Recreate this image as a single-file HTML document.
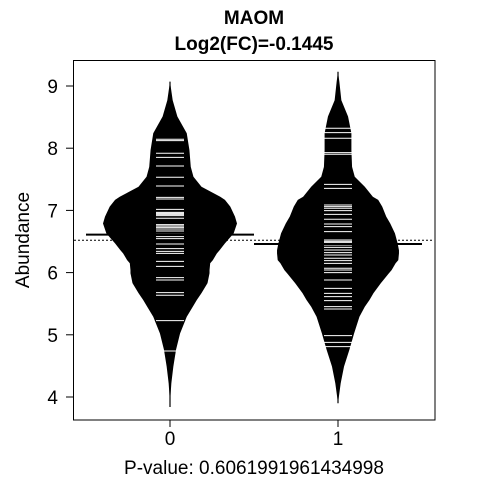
<!DOCTYPE html>
<html><head><meta charset="utf-8"><style>body{margin:0;background:#fff}svg text{font-family:"Liberation Sans",Arial,sans-serif}</style></head>
<body>
<svg id="chart" width="480" height="480" viewBox="0 0 480 480" xmlns="http://www.w3.org/2000/svg">
<text x="254" y="24" font-size="19" font-weight="bold" text-anchor="middle">MAOM</text>
<text x="254" y="50" font-size="19" font-weight="bold" text-anchor="middle">Log2(FC)=-0.1445</text>
<text transform="translate(29,240) rotate(-90)" font-size="19" text-anchor="middle">Abundance</text>
<text x="254" y="474" font-size="19" text-anchor="middle">P-value: 0.6061991961434998</text>
<g id="marks"></g>
<rect x="73.5" y="60.5" width="361.5" height="359.5" fill="none" stroke="#000" stroke-width="1"/>
</svg>
<script>
const groups = ["0", "1"];
const yTicks = [4, 5, 6, 7, 8, 9];
const densValues = [9.23,9.07,8.77,8.51,8.24,7.97,7.70,7.54,7.38,7.22,7.17,7.06,6.90,6.79,6.63,6.47,6.36,6.31,6.20,6.15,6.04,5.99,5.83,5.67,5.56,5.45,5.29,5.02,4.76,4.49,4.22,3.90,3.84];
const dens0 = [0,0,0.04,0.11,0.25,0.29,0.31,0.35,0.47,0.75,0.82,0.90,0.97,1.0,0.95,0.82,0.74,0.70,0.64,0.60,0.59,0.59,0.56,0.47,0.40,0.34,0.25,0.15,0.09,0.05,0.02,0,0];
const dens1 = [0,0.02,0.05,0.15,0.20,0.20,0.21,0.25,0.40,0.52,0.60,0.66,0.72,0.78,0.85,0.89,0.91,0.91,0.90,0.86,0.80,0.76,0.64,0.53,0.47,0.40,0.32,0.24,0.17,0.09,0.04,0,0];
const tips0 = [9.07, 3.84];
const tips1 = [9.23, 3.90];
const obs0 = [8.143,8.121,7.918,7.853,7.714,7.532,7.393,7.210,7.184,7.017,6.969,6.953,6.937,6.915,6.873,6.771,6.750,6.728,6.701,6.669,6.621,6.578,6.546,6.460,6.385,6.342,6.310,6.181,6.101,5.919,5.881,5.678,5.635,5.227,4.740];
const obs1 = [8.320,8.250,8.159,7.928,7.902,7.419,7.355,7.087,7.060,7.034,6.996,6.937,6.857,6.782,6.739,6.658,6.524,6.503,6.481,6.444,6.406,6.363,6.321,6.283,6.230,6.192,6.149,6.069,6.042,6.000,5.881,5.747,5.667,5.613,5.549,5.452,5.415,4.986,4.879,4.809];
const means = [6.61, 6.46];
const overallMean = 6.52;

const NS = "http://www.w3.org/2000/svg";
const g = document.getElementById("marks");
const svg = document.getElementById("chart");
const yS = v => 397 - (v - 4) * 62.2;
const xS = i => 170 + i * 168;
const maxHalf = 67;
function mk(tag, attrs) { const e = document.createElementNS(NS, tag); for (const k in attrs) e.setAttribute(k, attrs[k]); return e; }

yTicks.forEach(t => {
  const l = mk("line", {x1: 66, x2: 73.5, y1: yS(t), y2: yS(t), stroke: "#000"});
  
  
  svg.appendChild(l);
  const tx = mk("text", {x: 58, y: yS(t) + 7, "font-size": 19, "text-anchor": "end"});
  tx.textContent = t;
  
  
  svg.appendChild(tx);
});
groups.forEach((gr, i) => {
  const l = mk("line", {x1: xS(i), x2: xS(i), y1: 420, y2: 427, stroke: "#000"});
  
  
  svg.appendChild(l);
  const tx = mk("text", {x: xS(i), y: 445, "font-size": 19, "text-anchor": "middle"});
  tx.textContent = gr;
  
  
  svg.appendChild(tx);
});

const dl = mk("line", {x1: 74, x2: 434, y1: yS(overallMean), y2: yS(overallMean), stroke: "#000", "stroke-dasharray": "2,2"});


g.appendChild(dl);

[[dens0, obs0, tips0], [dens1, obs1, tips1]].forEach(([d, obs, tips], i) => {
  const cx = xS(i);
  const tip = mk("line", {x1: cx, x2: cx, y1: yS(tips[0]), y2: yS(tips[1]), stroke: "#000", "stroke-width": 1.2});
  
  
  g.appendChild(tip);
  let pts = densValues.map((v, k) => (cx - d[k] * maxHalf) + "," + yS(v));
  pts = pts.concat(densValues.map((v, k) => (cx + d[k] * maxHalf) + "," + yS(v)).reverse());
  const p = mk("polygon", {points: pts.join(" "), fill: "#000"});
  
  
  g.appendChild(p);
  obs.forEach(v => {
    const l = mk("line", {x1: cx - 14, x2: cx + 14, y1: yS(v), y2: yS(v), stroke: "#fff", "stroke-width": 1});
    
    
    g.appendChild(l);
  });
  const m = mk("line", {x1: cx - 84, x2: cx + 84, y1: yS(means[i]), y2: yS(means[i]), stroke: "#000", "stroke-width": 2});
  
  
  g.appendChild(m);
});
</script>
</body></html>
